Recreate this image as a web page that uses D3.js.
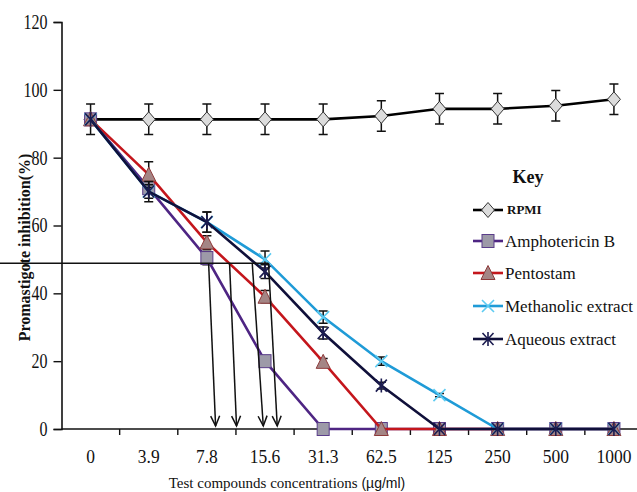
<!DOCTYPE html>
<html>
<head>
<meta charset="utf-8">
<script src="https://cdn.jsdelivr.net/npm/d3@7"></script>
<style>
  body { margin: 0; background: #fff; }
  svg { display: block; }
  .serif { font-family: "Liberation Serif", "Times New Roman", serif; }
</style>
</head>
<body>
<div id="chart"></div>
<script>
// concentrations (x categories)
const concentrations = ["0", "3.9", "7.8", "15.6", "31.3", "62.5", "125", "250", "500", "1000"];
const yTicks = [0, 20, 40, 60, 80, 100, 120];

// % inhibition for each treatment
const rpmi         = [91.3, 91.3, 91.3, 91.3, 91.3, 92.3, 94.4, 94.4, 95.3, 97.2];
const amphotericin = [91.3, 71, 50.4, 20, 0, 0, 0, 0, 0, 0];
const pentostam    = [91.3, 75, 55, 39, 19.8, 0, 0, 0, 0, 0];
const methanolic   = [91.3, 70, 61, 50, 33, 20, 10, 0, 0, 0];
const aqueous      = [91.3, 70, 61, 46.4, 28.3, 12.8, 0, 0, 0, 0];

// error bar half-widths
const rpmiErr  = [4.5, 4.5, 4.5, 4.5, 4.5, 4.5, 4.5, 4.5, 4.5, 4.5];
const amphoErr = [0, 1, 2, 0.5, 0, 0, 0, 0, 0, 0];
const pentoErr = [0, 3.8, 2, 1.8, 1, 0, 0, 0, 0, 0];
const methErr  = [0, 2, 3, 2.5, 1.8, 1.2, 0.5, 0, 0, 0];
const aqErr    = [0, 3, 3, 2, 1.8, 1, 0, 0, 0, 0];

// IC50 annotation: level and arrows (in category-index units, top -> bottom)
const ic50Level = 48.9;
const ic50Arrows = [[2.03, 2.15], [2.39, 2.51], [2.78, 2.97], [3.06, 3.21]];

const series = [
  { name: "RPMI", values: rpmi, err: rpmiErr, color: "#000000", marker: "diamond", fill: "#dcdcdc", mstroke: "#333" },
  { name: "Amphotericin B", values: amphotericin, err: amphoErr, color: "#4e2583", marker: "square", fill: "#9d9aa8", mstroke: "#5a3d8a" },
  { name: "Pentostam", values: pentostam, err: pentoErr, color: "#c4161c", marker: "triangle", fill: "#a48585", mstroke: "#8e3b3b" },
  { name: "Methanolic extract", values: methanolic, err: methErr, color: "#1f9bd7", marker: "x", fill: "none", mstroke: "#5ccbf2" },
  { name: "Aqueous extract", values: aqueous, err: aqErr, color: "#10103a", marker: "star", fill: "none", mstroke: "#1c1c50" }
];

const width = 637, height = 492;

const svg = d3.select("#chart").append("svg")
  .attr("width", width)
  .attr("height", height);

const x = d3.scaleBand().domain(concentrations).range([61.5, 643]).padding(0);
const y = d3.scaleLinear().domain([0, 120]).range([429, 22]);
const cx = d => x(d) + x.bandwidth() / 2;
const xi = d3.scaleLinear().domain([0, 9]).range([cx(concentrations[0]), cx(concentrations[9])]);

// axes
const xAxis = svg.append("g").attr("transform", `translate(0,${y(0)})`);
xAxis.append("line").attr("x1", x.range()[0]).attr("x2", width).attr("stroke", "#111").attr("stroke-width", 1.6);
xAxis.selectAll(".tk").data(concentrations.slice(1).concat(["end"]))
  .join("line")
  .attr("x1", (d, i) => x.range()[0] + (i + 1) * x.step())
  .attr("x2", (d, i) => x.range()[0] + (i + 1) * x.step())
  .attr("y1", 0).attr("y2", 6)
  .attr("stroke", "#111").attr("stroke-width", 1.4);
xAxis.selectAll(".lbl").data(concentrations)
  .join("text")
  .attr("class", "serif")
  .attr("transform", d => `translate(${cx(d)},28) scale(1,1.12)`)
  .attr("dy", "0.32em")
  .attr("text-anchor", "middle")
  .style("font-size", "17.5px")
  .attr("fill", "#111")
  .text(d => d);

const yAxis = svg.append("g")
  .attr("transform", `translate(${x.range()[0]},0)`)
  .call(d3.axisLeft(y).tickValues(yTicks).tickSize(8).tickPadding(6));
yAxis.select(".domain").attr("stroke", "#111").attr("stroke-width", 1.6);
yAxis.selectAll(".tick line").attr("stroke", "#111").attr("stroke-width", 1.4);
yAxis.selectAll(".tick text")
  .attr("class", "serif")
  .attr("transform", "scale(1,1.25)")
  .style("font-size", "16px")
  .attr("fill", "#111");

// axis titles
svg.append("text")
  .attr("class", "serif")
  .attr("transform", `translate(30,${(y(0) + y(120)) / 2 + 22}) rotate(-90)`)
  .attr("text-anchor", "middle")
  .style("font-size", "16px")
  .style("font-weight", "bold")
  .attr("fill", "#111")
  .text("Promastigote inhibition(%)");

const xt = svg.append("text")
  .attr("class", "serif")
  .attr("x", 287)
  .attr("y", 488)
  .attr("text-anchor", "middle")
  .style("font-size", "15px")
  .attr("fill", "#111");
xt.append("tspan").text("Test compounds concentrations ");
xt.append("tspan").style("font-family", "'Liberation Sans', Arial, sans-serif").style("font-size", "14px").text("(µg/ml)");

// markers
function drawMarker(g, type, fill, stroke) {
  if (type === "diamond") {
    g.append("path").attr("d", "M0,-7.5L6.5,0L0,7.5L-6.5,0Z").attr("fill", fill).attr("stroke", stroke).attr("stroke-width", 1);
  } else if (type === "square") {
    g.append("rect").attr("x", -6).attr("y", -6.5).attr("width", 12).attr("height", 13).attr("fill", fill).attr("stroke", stroke).attr("stroke-width", 1);
  } else if (type === "triangle") {
    g.append("path").attr("d", "M0,-7.5L7,6.5L-7,6.5Z").attr("fill", fill).attr("stroke", stroke).attr("stroke-width", 1);
  } else if (type === "x") {
    g.append("path").attr("d", "M-6,-6L6,6M-6,6L6,-6").attr("stroke", stroke).attr("stroke-width", 1.6).attr("fill", "none");
  } else if (type === "star") {
    g.append("path").attr("d", "M-5.5,-6L5.5,6M-5.5,6L5.5,-6M0,-7V7").attr("stroke", stroke).attr("stroke-width", 1.6).attr("fill", "none");
  }
}

const line = d3.line().x((d, i) => cx(concentrations[i])).y(d => y(d));

series.forEach(s => {
  const g = svg.append("g");
  // error bars
  s.values.forEach((v, i) => {
    const e = s.err[i];
    if (!e) return;
    const px = cx(concentrations[i]);
    g.append("path")
      .attr("d", `M${px},${y(v + e)}V${y(v - e)}M${px - 4.5},${y(v + e)}H${px + 4.5}M${px - 4.5},${y(v - e)}H${px + 4.5}`)
      .attr("stroke", "#111").attr("stroke-width", 1.5).attr("fill", "none");
  });
  g.append("path").datum(s.values)
    .attr("d", line)
    .attr("fill", "none")
    .attr("stroke", s.color)
    .attr("stroke-width", 2.6);
  s.values.forEach((v, i) => {
    const m = g.append("g").attr("transform", `translate(${cx(concentrations[i])},${y(v)})`);
    drawMarker(m, s.marker, s.fill, s.mstroke);
  });
});

// IC50 annotation
const ann = svg.append("g").attr("stroke", "#111").attr("stroke-width", 1.5).attr("fill", "none");
ann.append("line")
  .attr("x1", 0).attr("x2", xi(ic50Arrows[3][0]))
  .attr("y1", y(ic50Level)).attr("y2", y(ic50Level));
ic50Arrows.forEach(([a, b]) => {
  const x1 = xi(a), x2 = xi(b), y1 = y(ic50Level), y2 = y(0.9);
  ann.append("line").attr("x1", x1).attr("y1", y1).attr("x2", x2).attr("y2", y2);
  const ang = Math.atan2(y2 - y1, x2 - x1);
  const L = 11, spread = 0.42;
  ann.append("path")
    .attr("d", `M${x2 - L * Math.cos(ang - spread)},${y2 - L * Math.sin(ang - spread)}L${x2},${y2}L${x2 - L * Math.cos(ang + spread)},${y2 - L * Math.sin(ang + spread)}`);
});

// legend
const legend = svg.append("g");
legend.append("text")
  .attr("class", "serif")
  .attr("x", 528).attr("y", 183)
  .attr("text-anchor", "middle")
  .style("font-size", "18px")
  .style("font-weight", "bold")
  .attr("fill", "#111")
  .text("Key");
const rows = [210, 241, 273, 306, 339];
series.forEach((s, i) => {
  const g = legend.append("g").attr("transform", `translate(0,${rows[i]})`);
  g.append("line").attr("x1", 473).attr("x2", 503).attr("stroke", s.color).attr("stroke-width", 2.6);
  drawMarker(g.append("g").attr("transform", "translate(488,0)"), s.marker, s.fill, s.mstroke);
  g.append("text")
    .attr("class", "serif")
    .attr("x", i === 0 ? 507 : 505)
    .attr("y", 0)
    .attr("dy", "0.33em")
    .style("font-size", i === 0 ? "13px" : "17px")
    .style("font-weight", i === 0 ? "bold" : "normal")
    .attr("fill", "#111")
    .text(s.name);
});
</script>
</body>
</html>
